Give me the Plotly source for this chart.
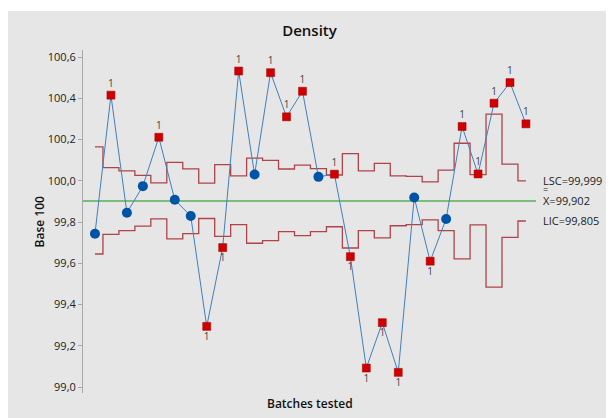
import plotly.graph_objects as go

batch = list(range(1, 29))
density = [99.743, 100.415, 99.845, 99.974, 100.211, 99.908, 99.829, 99.294, 99.676, 100.532,
           100.030, 100.524, 100.310, 100.434, 100.019, 100.032, 99.632, 99.092, 99.312, 99.071,
           99.919, 99.610, 99.815, 100.263, 100.033, 100.376, 100.476, 100.276]
ucl = [100.164, 100.064, 100.048, 100.026, 99.990, 100.089, 100.058, 99.989, 100.078, 100.024,
       100.110, 100.099, 100.057, 100.076, 100.059, 100.028, 100.132, 100.048, 100.084, 100.024,
       100.021, 99.995, 100.052, 100.182, 100.030, 100.323, 100.081, 99.999]
lcl = [99.645, 99.740, 99.758, 99.780, 99.815, 99.718, 99.744, 99.817, 99.730, 99.787,
       99.697, 99.710, 99.753, 99.734, 99.753, 99.777, 99.674, 99.758, 99.723, 99.782,
       99.787, 99.810, 99.758, 99.621, 99.786, 99.484, 99.726, 99.805]
center = 99.902
out_of_control = [0, 1, 0, 0, 1, 0, 0, 1, 1, 1,
                  0, 1, 1, 1, 0, 1, 1, 1, 1, 1,
                  0, 1, 0, 1, 1, 1, 1, 1]
ucl_label = "LSC=99,999"
center_label = "X=99,902"
lcl_label = "LIC=99,805"

FONT = "Open Sans"
LIMIT_COLOR = "#ad4449"

fig = go.Figure()

fig.add_trace(go.Scatter(x=batch, y=ucl, mode="lines", line=dict(color=LIMIT_COLOR, width=1.3, shape="hvh"),
                         hoverinfo="skip", showlegend=False))
fig.add_trace(go.Scatter(x=batch, y=lcl, mode="lines", line=dict(color=LIMIT_COLOR, width=1.3, shape="hvh"),
                         hoverinfo="skip", showlegend=False))
fig.add_trace(go.Scatter(x=[batch[0] - 1, batch[-1] + 1], y=[center, center], mode="lines",
                         line=dict(color="#5aae5a", width=1.3), showlegend=False))
fig.add_trace(go.Scatter(x=batch, y=density, mode="lines", line=dict(color="#3f7fc2", width=1),
                         showlegend=False))

ic_x = [b for b, o in zip(batch, out_of_control) if not o]
ic_y = [d for d, o in zip(density, out_of_control) if not o]
oc_x = [b for b, o in zip(batch, out_of_control) if o]
oc_y = [d for d, o in zip(density, out_of_control) if o]
oc_pos = ["top center" if d > center else "bottom center" for d in oc_y]

fig.add_trace(go.Scatter(x=ic_x, y=ic_y, mode="markers",
                         marker=dict(symbol="circle", size=10, color="#0054a6"), showlegend=False))
fig.add_trace(go.Scatter(x=oc_x, y=oc_y, mode="markers+text", text=["1"] * len(oc_x),
                         textposition=oc_pos, textfont=dict(family=FONT, size=10, color="#444444"),
                         marker=dict(symbol="square", size=8, color="#d00000",
                                     line=dict(color="#a00000", width=0.5)),
                         showlegend=False))

# background panel
fig.add_shape(type="rect", xref="paper", yref="paper", x0=-0.17, x1=1.2, y0=-0.1, y1=1.1137,
              fillcolor="#e6e6e6", line=dict(width=0), layer="below")

ann_font = dict(family=FONT, size=11, color="#222222")
fig.add_annotation(xref="paper", yref="y", x=1.011, y=ucl[-1], text=ucl_label, showarrow=False,
                   xanchor="left", yanchor="middle", font=ann_font)
fig.add_annotation(xref="paper", yref="y", x=1.011, y=center, text=center_label, showarrow=False,
                   xanchor="left", yanchor="middle", font=ann_font)
fig.add_annotation(xref="paper", yref="y", x=1.011, y=center + 0.056, text="=", showarrow=False,
                   xanchor="left", yanchor="middle", font=dict(family=FONT, size=9, color="#222222"))
fig.add_annotation(xref="paper", yref="y", x=1.011, y=lcl[-1], text=lcl_label, showarrow=False,
                   xanchor="left", yanchor="middle", font=ann_font)

fig.add_annotation(xref="paper", yref="paper", x=0.5, y=-0.032, text="Batches tested", showarrow=False,
                   xanchor="center", yanchor="middle", font=dict(family=FONT, size=12, color="#111111", weight=600))
fig.add_annotation(xref="paper", yref="paper", x=-0.095, y=0.5, text="Base 100", showarrow=False,
                   textangle=-90, xanchor="center", yanchor="middle",
                   font=dict(family=FONT, size=12, color="#111111", weight=600))

fig.update_layout(
    width=606, height=410,
    margin=dict(l=75, r=78, t=42, b=25),
    paper_bgcolor="white",
    plot_bgcolor="white",
    separators=", ",
    title=dict(text="Density", x=0.5, xref="paper", xanchor="center", y=1 - 23 / 410, yanchor="middle",
               font=dict(family=FONT, size=15, color="#111111", weight=600)),
    font=dict(family=FONT, size=11, color="#222222"),
    xaxis=dict(range=[0.25, 28.63], showticklabels=False, showgrid=False, zeroline=False,
               showline=False, ticks=""),
    yaxis=dict(range=[98.971, 100.634], tick0=99.0, dtick=0.2, tickformat=".1f", showgrid=False,
               zeroline=False, showline=True, linecolor="#a8a8a8", linewidth=1, ticks="outside",
               ticklen=4, tickcolor="#a8a8a8", tickfont=dict(family=FONT, size=11, color="#222222")),
)

fig.write_html("out.html")
